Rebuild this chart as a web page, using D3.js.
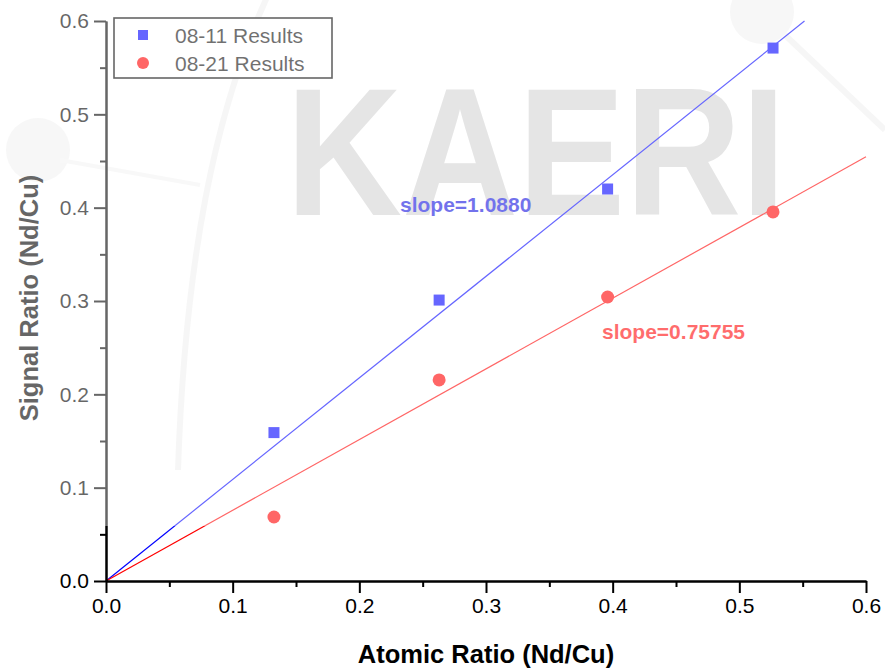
<!DOCTYPE html>
<html>
<head>
<meta charset="utf-8">
<script src="https://cdn.jsdelivr.net/npm/d3@7"></script>
<style>
  html, body { margin: 0; padding: 0; background: #fff; }
  svg { display: block; font-family: "Liberation Sans", Arial, sans-serif; }
</style>
</head>
<body>
<svg id="chart" width="885" height="668"></svg>
<script>
// Atomic ratio (Nd/Cu) of the standards
const atomicRatio = [0.1326, 0.263, 0.396, 0.5266];
// Measured signal ratios for the two runs
const signal0811 = [0.159, 0.301, 0.420, 0.571];
const signal0821 = [0.0686, 0.2154, 0.3043, 0.3954];
// Fitted slopes (lines through the origin)
const slope0811 = 1.0880;
const slope0821 = 0.75755;
const seriesNames = ["08-11 Results", "08-21 Results"];
const majorTicks = [0, 0.1, 0.2, 0.3, 0.4, 0.5, 0.6];
const minorTicks = [0.05, 0.15, 0.25, 0.35, 0.45, 0.55];

const W = 885, H = 668;
const margin = { left: 106, right: 19, top: 21, bottom: 87 };
const svg = d3.select("#chart");

const x = d3.scaleLinear().domain([0, 0.6]).range([margin.left, W - margin.right]);
const y = d3.scaleLinear().domain([0, 0.6]).range([H - margin.bottom, margin.top]);

const BLUE = "#0000ff", RED = "#ff0000";

// --- faint background watermark ---
const wm = svg.append("g").attr("class", "watermark");
wm.append("path")
  .attr("d", "M268,-5 C215,110 185,260 178,470")
  .attr("fill", "none").attr("stroke", "#f1f1f1").attr("stroke-width", 6);
wm.append("circle").attr("cx", 38).attr("cy", 150).attr("r", 32).attr("fill", "#f2f2f2");
wm.append("path").attr("d", "M60,160 L200,185").attr("stroke", "#f4f4f4").attr("stroke-width", 4);
wm.append("circle").attr("cx", 762).attr("cy", 12).attr("r", 32).attr("fill", "#f2f2f2");
wm.append("path").attr("d", "M785,35 L885,130").attr("stroke", "#f1f1f1").attr("stroke-width", 6);
wm.append("text")
  .attr("x", 286).attr("y", 215)
  .attr("textLength", 500).attr("lengthAdjust", "spacingAndGlyphs")
  .style("font-size", "182px").style("font-weight", "bold")
  .attr("fill", "#d4d4d4")
  .text("KAERI");

// --- fitted lines through the origin ---
function fitLine(slope) {
  const xEnd = Math.min(0.6, 0.6 / slope);
  return [[0, 0], [xEnd, slope * xEnd]];
}
const line = d3.line().x(d => x(d[0])).y(d => y(d[1]));
svg.append("path").datum(fitLine(slope0811)).attr("d", line)
  .attr("fill", "none").attr("stroke", BLUE).attr("stroke-width", 1.2);
svg.append("path").datum(fitLine(slope0821)).attr("d", line)
  .attr("fill", "none").attr("stroke", RED).attr("stroke-width", 1.2);

// --- data markers ---
const sq = 11;
svg.append("g").selectAll("rect").data(atomicRatio.map((a, i) => [a, signal0811[i]]))
  .join("rect")
  .attr("x", d => x(d[0]) - sq / 2).attr("y", d => y(d[1]) - sq / 2)
  .attr("width", sq).attr("height", sq).attr("fill", BLUE);
svg.append("g").selectAll("circle").data(atomicRatio.map((a, i) => [a, signal0821[i]]))
  .join("circle")
  .attr("cx", d => x(d[0])).attr("cy", d => y(d[1])).attr("r", 6.5).attr("fill", RED);

// --- slope annotations ---
svg.append("text").attr("x", 400).attr("y", 212)
  .style("font-size", "21px").style("font-weight", "bold").attr("fill", "#1414e0")
  .text("slope=" + slope0811.toFixed(4));
svg.append("text").attr("x", 602).attr("y", 339)
  .style("font-size", "21px").style("font-weight", "bold").attr("fill", "#ff0a0a")
  .text("slope=" + slope0821.toFixed(5));

// --- axes ---
function styleAxis(g) {
  g.select(".domain").attr("stroke", "#000").attr("stroke-width", 2);
  g.selectAll(".tick line").attr("stroke", "#000").attr("stroke-width", 2);
  g.selectAll(".tick text").attr("fill", "#000").style("font-size", "21px")
    .style("font-family", "'Liberation Sans', Arial, sans-serif");
}
svg.append("g").attr("transform", `translate(0,${y(0)})`)
  .call(d3.axisBottom(x).tickValues(majorTicks).tickFormat(d3.format(".1f"))
    .tickSize(12).tickPadding(5).tickSizeOuter(0))
  .call(styleAxis);
svg.append("g").attr("transform", `translate(0,${y(0)})`)
  .call(d3.axisBottom(x).tickValues(minorTicks).tickFormat("").tickSize(6).tickSizeOuter(0))
  .call(styleAxis);
svg.append("g").attr("transform", `translate(${x(0)},0)`)
  .call(d3.axisLeft(y).tickValues(majorTicks).tickFormat(d3.format(".1f"))
    .tickSize(12).tickPadding(5).tickSizeOuter(0))
  .call(styleAxis);
svg.append("g").attr("transform", `translate(${x(0)},0)`)
  .call(d3.axisLeft(y).tickValues(minorTicks).tickFormat("").tickSize(6).tickSizeOuter(0))
  .call(styleAxis);

// --- axis titles ---
svg.append("text")
  .attr("x", (x(0) + x(0.6)) / 2).attr("y", 663)
  .attr("text-anchor", "middle")
  .style("font-size", "25.5px").style("font-weight", "bold").attr("fill", "#000")
  .text("Atomic Ratio (Nd/Cu)");
svg.append("text")
  .attr("transform", `translate(38,${(y(0) + y(0.6)) / 2 - 3}) rotate(-90)`)
  .attr("text-anchor", "middle")
  .style("font-size", "25.5px").style("font-weight", "bold").attr("fill", "#000")
  .text("Signal Ratio (Nd/Cu)");

// --- legend ---
const lg = svg.append("g").attr("transform", "translate(114,18)");
lg.append("rect").attr("width", 218).attr("height", 60)
  .attr("fill", "#fff").attr("stroke", "#000").attr("stroke-width", 1.6);
lg.append("rect").attr("x", 29 - 5).attr("y", 17 - 5).attr("width", 10).attr("height", 10).attr("fill", BLUE);
lg.append("circle").attr("cx", 29).attr("cy", 45).attr("r", 6).attr("fill", RED);
lg.selectAll("text.lbl").data(seriesNames).join("text")
  .attr("class", "lbl")
  .attr("x", 61).attr("y", (d, i) => 25 + i * 28)
  .style("font-size", "21px").attr("fill", "#111")
  .text(d => d);

// --- translucent white wash over the upper part of the figure ---
svg.append("rect").attr("x", 0).attr("y", 0).attr("width", W).attr("height", 526)
  .attr("fill", "#fff").attr("opacity", 0.4);
</script>
</body>
</html>
